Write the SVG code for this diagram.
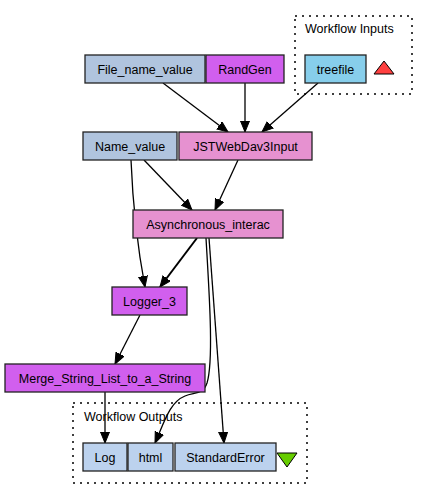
<svg xmlns="http://www.w3.org/2000/svg" width="428" height="499" viewBox="0 0 428 499">
<defs>
<marker id="ah" markerUnits="userSpaceOnUse" markerWidth="12" markerHeight="11" refX="11" refY="5" orient="auto">
<path d="M0,0.5 L11,5 L0,9.5 z" fill="#000" stroke="#000" stroke-width="1"/>
</marker>
</defs>
<style>
text{font-family:"Liberation Sans",Arial,sans-serif;font-size:12.5px;fill:#000;text-anchor:middle}
.n{stroke:#222;stroke-width:1.3}
.c{fill:none;stroke:#000;stroke-width:1.3;marker-end:url(#ah)}
.cl{fill:none;stroke:#000;stroke-dasharray:2,5;stroke-width:1.5}
.lb{text-anchor:start}
</style>
<rect width="428" height="499" fill="#fff"/>
<g id="workflow_inputs">
<rect class="cl" x="295" y="16" width="117" height="78"/>
<text class="lb" x="305" y="33">Workflow Inputs</text>
</g>
<g id="workflow_outputs">
<rect class="cl" x="73" y="403" width="234" height="80"/>
<text class="lb" x="84" y="421">Workflow Outputs</text>
</g>
<g id="connectors">
<path class="c" d="M163,83 L228,132"/>
<path class="c" d="M245,83 L245,132"/>
<path class="c" d="M318,83 L262,132"/>
<path class="c" d="M144,160 L192,210"/>
<path class="c" d="M238,160 L215,210"/>
<path class="c" d="M131,160 C133,210 138,250 145,287"/>
<path class="c" style="stroke-width:2" d="M197,238 L160,287"/>
<path class="c" d="M209,238 L224,443"/>
<path class="c" d="M206,238 C209,290 214,360 207,383 C203,395 195,392 185,396 C170,402 165,420 155,443"/>
<path class="c" d="M140,315 L115,364"/>
<path class="c" d="M105,392 L105,443"/>
</g>
<g id="File_name_value">
<rect class="n" x="85" y="55" width="120" height="28" fill="#b0c4de"/>
<text x="145" y="73.5">File_name_value</text>
</g>
<g id="RandGen">
<rect class="n" x="206" y="55" width="78" height="28" fill="#d15fee"/>
<text x="245" y="73.5">RandGen</text>
</g>
<g id="treefile">
<rect class="n" x="305" y="55" width="61" height="28" fill="#87ceeb"/>
<text x="335.5" y="73.5">treefile</text>
</g>
<g id="input_marker">
<polygon points="384,61 394,74 374,74" fill="#ff4040" stroke="#000" stroke-width="1"/>
</g>
<g id="Name_value">
<rect class="n" x="83" y="132" width="94" height="28" fill="#b0c4de"/>
<text x="130" y="150.5">Name_value</text>
</g>
<g id="JSTWebDav3Input">
<rect class="n" x="179" y="132" width="133" height="28" fill="#e691d0"/>
<text x="245.5" y="150.5">JSTWebDav3Input</text>
</g>
<g id="Asynchronous_interac">
<rect class="n" x="133" y="210" width="150" height="28" fill="#e691d0"/>
<text x="208" y="228.5">Asynchronous_interac</text>
</g>
<g id="Logger_3">
<rect class="n" x="112" y="287" width="75" height="28" fill="#d15fee"/>
<text x="149.5" y="305.5">Logger_3</text>
</g>
<g id="Merge_String_List_to_a_String">
<rect class="n" x="5" y="364" width="200" height="28" fill="#d15fee"/>
<text x="105" y="382.5">Merge_String_List_to_a_String</text>
</g>
<g id="Log">
<rect class="n" x="83" y="443" width="44" height="28" fill="#bcd2ee"/>
<text x="105" y="461.5">Log</text>
</g>
<g id="html">
<rect class="n" x="128" y="443" width="45" height="28" fill="#bcd2ee"/>
<text x="150.5" y="461.5">html</text>
</g>
<g id="StandardError">
<rect class="n" x="175" y="443" width="101" height="28" fill="#bcd2ee"/>
<text x="225.5" y="461.5">StandardError</text>
</g>
<g id="output_marker">
<polygon points="277,453 297,453 287,467" fill="#66cd00" stroke="#000" stroke-width="1"/>
</g>
</svg>
